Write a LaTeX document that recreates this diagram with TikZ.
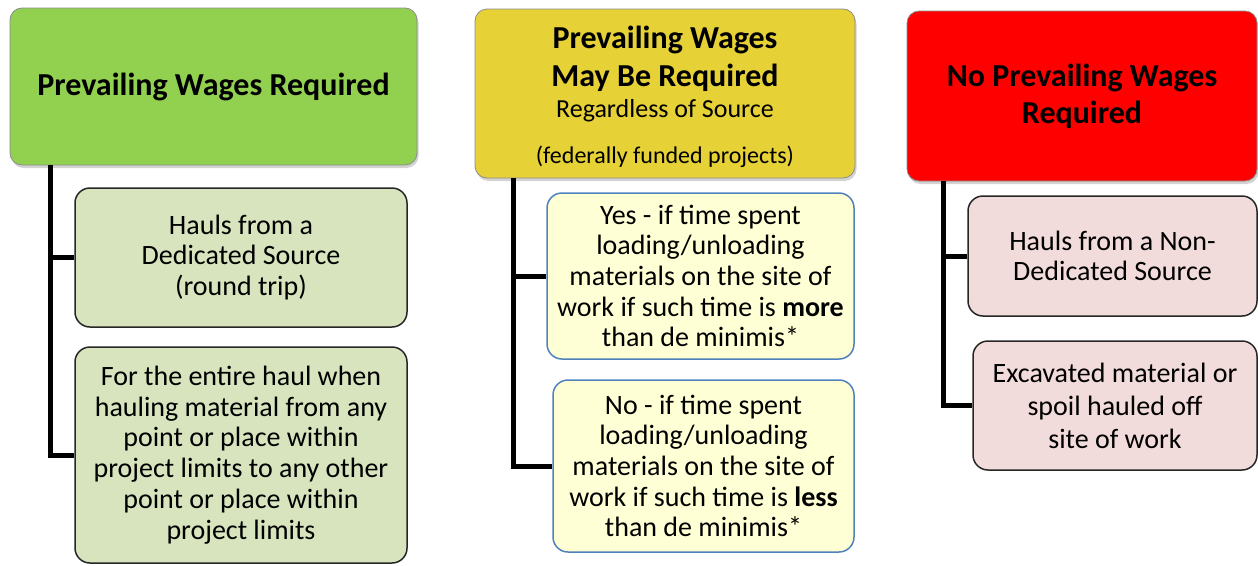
\documentclass[tikz,border=0pt]{standalone}
\usepackage{fontspec}
\setmainfont{Carlito}
\usetikzlibrary{shadows}
\definecolor{ghead}{HTML}{92D050}
\definecolor{gchild}{HTML}{D7E4BD}
\definecolor{yhead}{HTML}{E6D137}
\definecolor{ychild}{HTML}{FFFFD5}
\definecolor{yedge}{HTML}{4F81BD}
\definecolor{rhead}{HTML}{FF0000}
\definecolor{rchild}{HTML}{F2DCDB}
\tikzset{
  hdr/.style={draw=black!45, line width=0.8pt, rounded corners=12pt, align=center, inner sep=0pt,
    font=\fontsize{32}{37}\selectfont\bfseries,
    drop shadow={opacity=0.35, shadow xshift=1.5pt, shadow yshift=-3pt}},
  box/.style={line width=1.5pt, rounded corners=15pt, align=center, inner sep=0pt,
    font=\fontsize{28}{30.7}\selectfont},
  conn/.style={line width=5pt, black}
}
\begin{document}
\begin{tikzpicture}[x=1pt,y=-1pt]
\useasboundingbox (0,0) rectangle (1258,565);
% green column
\node[hdr, fill=ghead, minimum width=407pt, minimum height=157pt] (gh) at (213.5,86.5) {Prevailing Wages Required};
\node[box, draw=black!85, fill=gchild, minimum width=332pt, minimum height=139pt] (g1) at (241,257.5)
  {Hauls from a\\Dedicated Source\\(round trip)};
\node[box, draw=black!85, fill=gchild, minimum width=332pt, minimum height=216pt] (g2) at (241,455)
  {For the entire haul when\\hauling material from any\\point or place within\\project limits to any other\\point or place within\\project limits};
% yellow column
\node[hdr, fill=yhead, minimum width=380pt, minimum height=169pt] (yh) at (665,93.5) {};
\node[align=center, inner sep=0pt, font=\fontsize{32}{38}\selectfont\bfseries] (yt) at (665,97)
  {Prevailing Wages\\May Be Required\\[-7pt]{\fontsize{26}{32}\selectfont\mdseries Regardless of Source}\\[8pt]{\fontsize{24}{29}\selectfont\mdseries (federally funded projects)}};
\node[box, draw=yedge, fill=ychild, minimum width=307pt, minimum height=166pt] (y1) at (700.5,276)
  {Yes - if time spent\\loading/unloading\\materials on the site of\\work if such time is \textbf{more}\\than de minimis*};
\node[box, draw=yedge, fill=ychild, minimum width=301pt, minimum height=172pt] (y2) at (703.5,466)
  {No - if time spent\\loading/unloading\\materials on the site of\\work if such time is \textbf{less}\\than de minimis*};
% red column
\node[hdr, fill=rhead, minimum width=350pt, minimum height=170pt] (rh) at (1082,96)
  {No Prevailing Wages\\Required};
\node[box, draw=black!85, fill=rchild, minimum width=289pt, minimum height=120pt] (r1) at (1112.5,256)
  {Hauls from a Non-\\Dedicated Source};
\node[box, draw=black!85, fill=rchild, minimum width=284pt, minimum height=129pt, font=\fontsize{28}{33}\selectfont] (r2) at (1115,405.5)
  {Excavated material or\\spoil hauled off\\site of work};
% connectors
\coordinate (gx) at (50,0);
\coordinate (yx) at (513,0);
\coordinate (rx) at (943,0);
\draw[conn] (gx |- gh.south) |- (g1.west);
\draw[conn] (gx |- gh.south) |- (g2.west);
\draw[conn] (yx |- yh.south) |- (y1.west);
\draw[conn] (yx |- yh.south) |- (y2.west);
\draw[conn] (rx |- rh.south) |- (r1.west);
\draw[conn] (rx |- rh.south) |- (r2.west);
\end{tikzpicture}
\end{document}
